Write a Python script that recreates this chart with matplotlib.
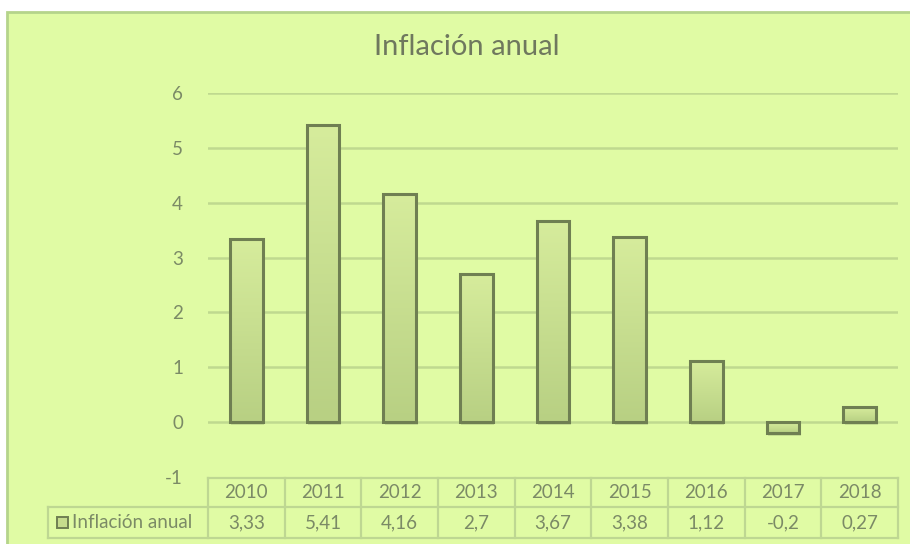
import numpy as np
import matplotlib.pyplot as plt
from matplotlib.patches import Rectangle

years = ['2010', '2011', '2012', '2013', '2014', '2015', '2016', '2017', '2018']
inflacion = [3.33, 5.41, 4.16, 2.7, 3.67, 3.38, 1.12, -0.2, 0.27]
etiquetas = ['3,33', '5,41', '4,16', '2,7', '3,67', '3,38', '1,12', '-0,2', '0,27']
serie = 'Inflación anual'

W, H = 910, 544
bg = '#e0fba4'
grid_c = '#bfd98f'
text_c = '#7b8a66'
edge_c = '#6f7f52'
fs = 13.5
plt.rcParams['font.family'] = ['Lato', 'DejaVu Sans']
plt.rcParams['axes.unicode_minus'] = False

fig = plt.figure(figsize=(W / 100, H / 100), dpi=100)
fig.patch.set_facecolor('white')

# chart area background with a light border
fig.patches.append(Rectangle((7 / W, -0.05), 1, (H - 12) / H + 0.05, transform=fig.transFigure,
                             facecolor=bg, edgecolor='#b5d48b', linewidth=2, zorder=-5))

def fx(px):
    return px / W

def fy(py):
    return 1 - py / H

x0, x1 = 208, 898
ax = fig.add_axes([fx(x0), fy(477), fx(x1) - fx(x0), fy(93) - fy(477)])
ax.set_zorder(2)
ax.set_facecolor('none')
n = len(years)
for t in range(0, 7):
    ax.axhline(t, color=grid_c, linewidth=1.8, zorder=1)
for s in ax.spines.values():
    s.set_visible(False)
ax.set_xticks([])
ax.tick_params(axis='y', length=0, pad=18, labelsize=fs, labelcolor=text_c)

# bars with vertical gradient and soft shadow
grad = np.linspace(0, 1, 100).reshape(-1, 1)
cmap = plt.matplotlib.colors.LinearSegmentedColormap.from_list('g', ['#b8d083', '#d6ec9c'])
bw = 0.43
for i, v in enumerate(inflacion):
    lo, hi = min(0, v), max(0, v)
    sh = Rectangle((i - bw / 2 + 0.02, lo - 0.06), bw, hi - lo, facecolor='#7f9060',
                   alpha=0.25, edgecolor='none', zorder=2)
    ax.add_patch(sh)
    im = ax.imshow(grad, extent=(i - bw / 2, i + bw / 2, lo, hi), origin='lower',
                   cmap=cmap, aspect='auto', zorder=3)
    r = Rectangle((i - bw / 2, lo), bw, hi - lo, facecolor='none', edgecolor=edge_c,
                  linewidth=2.2, zorder=4)
    ax.add_patch(r)
    im.set_clip_path(r)
ax.set_xlim(-0.5, n - 0.5)
ax.set_ylim(-1, 6)
ax.set_yticks(range(-1, 7))

fig.text(0.513, fy(47), serie, ha='center', va='center', fontsize=21, color='#6f785e')

# data table below the plot
tc = '#bed792'
cw = (x1 - x0) / n
yh0, yh1, yd1 = 478, 507, 538
lw = 1.6
fig.add_artist(plt.Line2D([fx(x0), fx(x1)], [fy(yh0)] * 2, color=tc, lw=lw))
fig.add_artist(plt.Line2D([fx(48), fx(x1)], [fy(yh1)] * 2, color=tc, lw=lw))
fig.add_artist(plt.Line2D([fx(48), fx(x1)], [fy(yd1)] * 2, color=tc, lw=lw))
fig.add_artist(plt.Line2D([fx(48)] * 2, [fy(yh1), fy(yd1)], color=tc, lw=lw))
for k in range(n + 1):
    xp = x0 + k * cw
    fig.add_artist(plt.Line2D([fx(xp)] * 2, [fy(yh0), fy(yd1)], color=tc, lw=lw))
for k, (yr, lab) in enumerate(zip(years, etiquetas)):
    xc = x0 + (k + 0.5) * cw
    fig.text(fx(xc), fy((yh0 + yh1) / 2), yr, ha='center', va='center', fontsize=fs, color=text_c)
    fig.text(fx(xc), fy((yh1 + yd1) / 2), lab, ha='center', va='center', fontsize=fs, color=text_c)

# legend key in the table
fig.patches.append(Rectangle((fx(57), fy(528)), fx(11), fy(517) - fy(528), transform=fig.transFigure,
                             facecolor='#c6dc8d', edgecolor=edge_c, linewidth=1.4))
fig.text(fx(72), fy((yh1 + yd1) / 2), serie, ha='left', va='center', fontsize=fs, color=text_c)

fig.savefig('out.png', dpi=100, facecolor=fig.get_facecolor())
